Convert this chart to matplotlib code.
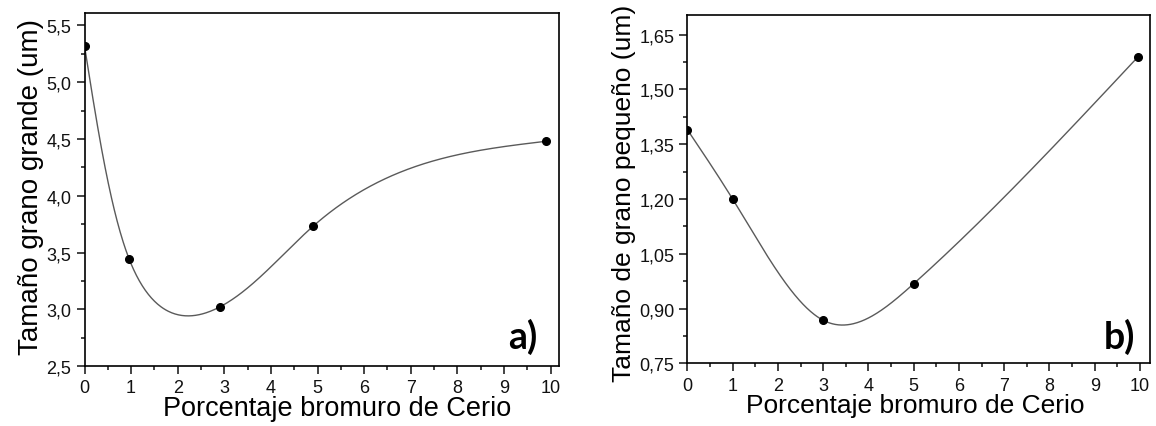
import numpy as np
import matplotlib
matplotlib.use("Agg")
import matplotlib.pyplot as plt
from matplotlib.ticker import MultipleLocator, FuncFormatter

plt.rcParams["font.family"] = ["Liberation Sans", "DejaVu Sans"]

# Porcentaje de bromuro de cerio vs. tamaño de grano
pct_a = [0.0, 0.96, 2.9, 4.9, 9.9]
grano_grande = [5.32, 3.44, 3.02, 3.73, 4.48]

pct_b = [0.0, 1.0, 3.0, 5.0, 9.96]
grano_pequeno = [1.39, 1.20, 0.868, 0.968, 1.59]

Y_WEIGHT = 0.6  # weight of y in the chord-length parametrisation


def second_derivs(t, y):
    k = len(t)
    h = np.diff(t)
    A = np.zeros((k, k))
    b = np.zeros(k)
    A[0, 0] = A[-1, -1] = 1.0
    for i in range(1, k - 1):
        A[i, i - 1] = h[i - 1]
        A[i, i] = 2 * (h[i - 1] + h[i])
        A[i, i + 1] = h[i]
        b[i] = 6 * ((y[i + 1] - y[i]) / h[i] - (y[i] - y[i - 1]) / h[i - 1])
    return np.linalg.solve(A, b)


def spline_eval(t, y, ts):
    M = second_derivs(t, y)
    idx = np.clip(np.searchsorted(t, ts) - 1, 0, len(t) - 2)
    t0, t1 = t[idx], t[idx + 1]
    hh = t1 - t0
    a0, a1 = t1 - ts, ts - t0
    return (M[idx] * a0**3 + M[idx + 1] * a1**3) / (6 * hh) \
        + (y[idx] / hh - M[idx] * hh / 6) * a0 \
        + (y[idx + 1] / hh - M[idx + 1] * hh / 6) * a1


def smooth_line(x, y, n=600):
    """Parametric natural cubic spline through the points."""
    x = np.asarray(x, float)
    y = np.asarray(y, float)
    d = np.hypot(np.diff(x), Y_WEIGHT * np.diff(y))
    t = np.concatenate([[0], np.cumsum(d)])
    ts = np.linspace(0, t[-1], n)
    return spline_eval(t, x, ts), spline_eval(t, y, ts)


def comma(decimals):
    return FuncFormatter(lambda v, _: f"{v:.{decimals}f}".replace(".", ","))


def style_axes(ax):
    for s in ax.spines.values():
        s.set_linewidth(1.2)
    ax.tick_params(which="both", direction="out", top=False, right=False,
                   labelsize=13, colors="#111111", width=1.1)
    ax.tick_params(which="major", length=6)
    ax.tick_params(which="minor", length=3)
    ax.xaxis.set_major_locator(MultipleLocator(1))
    ax.xaxis.set_minor_locator(MultipleLocator(0.5))


fig = plt.figure(figsize=(11.56, 4.27), dpi=100)
ax1 = fig.add_axes([0.0731, 0.1405, 0.4105, 0.8267])
ax2 = fig.add_axes([0.5946, 0.1468, 0.4002, 0.8157])

# a) grano grande
ax1.plot(*smooth_line(pct_a, grano_grande), color="#5a5a5a", lw=1.0)
ax1.plot(pct_a, grano_grande, "o", color="black", ms=5.5)
ax1.set_xlim(0, 10.18)
ax1.set_ylim(2.5, 5.61)
style_axes(ax1)
ax1.yaxis.set_major_locator(MultipleLocator(0.5))
ax1.yaxis.set_minor_locator(MultipleLocator(0.25))
ax1.yaxis.set_major_formatter(comma(1))
ax1.set_xlabel("Porcentaje bromuro de Cerio", fontsize=19.5)
ax1.set_ylabel("Tamaño grano grande (um)", fontsize=20)
ax1.xaxis.set_label_coords(0.532, -0.082)
ax1.yaxis.set_label_coords(-0.085, 0.51)
ax1.text(0.924, 0.085, "a)", transform=ax1.transAxes, fontsize=27,
         fontweight="bold", family="Lato", ha="center", va="center")

# b) grano pequeño
ax2.plot(*smooth_line(pct_b, grano_pequeno), color="#5a5a5a", lw=1.0)
ax2.plot(pct_b, grano_pequeno, "o", color="black", ms=5.5)
ax2.set_xlim(0, 10.22)
ax2.set_ylim(0.75, 1.704)
style_axes(ax2)
ax2.yaxis.set_major_locator(MultipleLocator(0.15))
ax2.yaxis.set_minor_locator(MultipleLocator(0.075))
ax2.yaxis.set_major_formatter(comma(2))
ax2.set_xlabel("Porcentaje bromuro de Cerio", fontsize=19)
ax2.set_ylabel("Tamaño de grano pequeño (um)", fontsize=19)
ax2.xaxis.set_label_coords(0.493, -0.085)
ax2.yaxis.set_label_coords(-0.11, 0.49)
ax2.text(0.933, 0.078, "b)", transform=ax2.transAxes, fontsize=27,
         fontweight="bold", family="Lato", ha="center", va="center")

fig.savefig("out.png", dpi=100)
